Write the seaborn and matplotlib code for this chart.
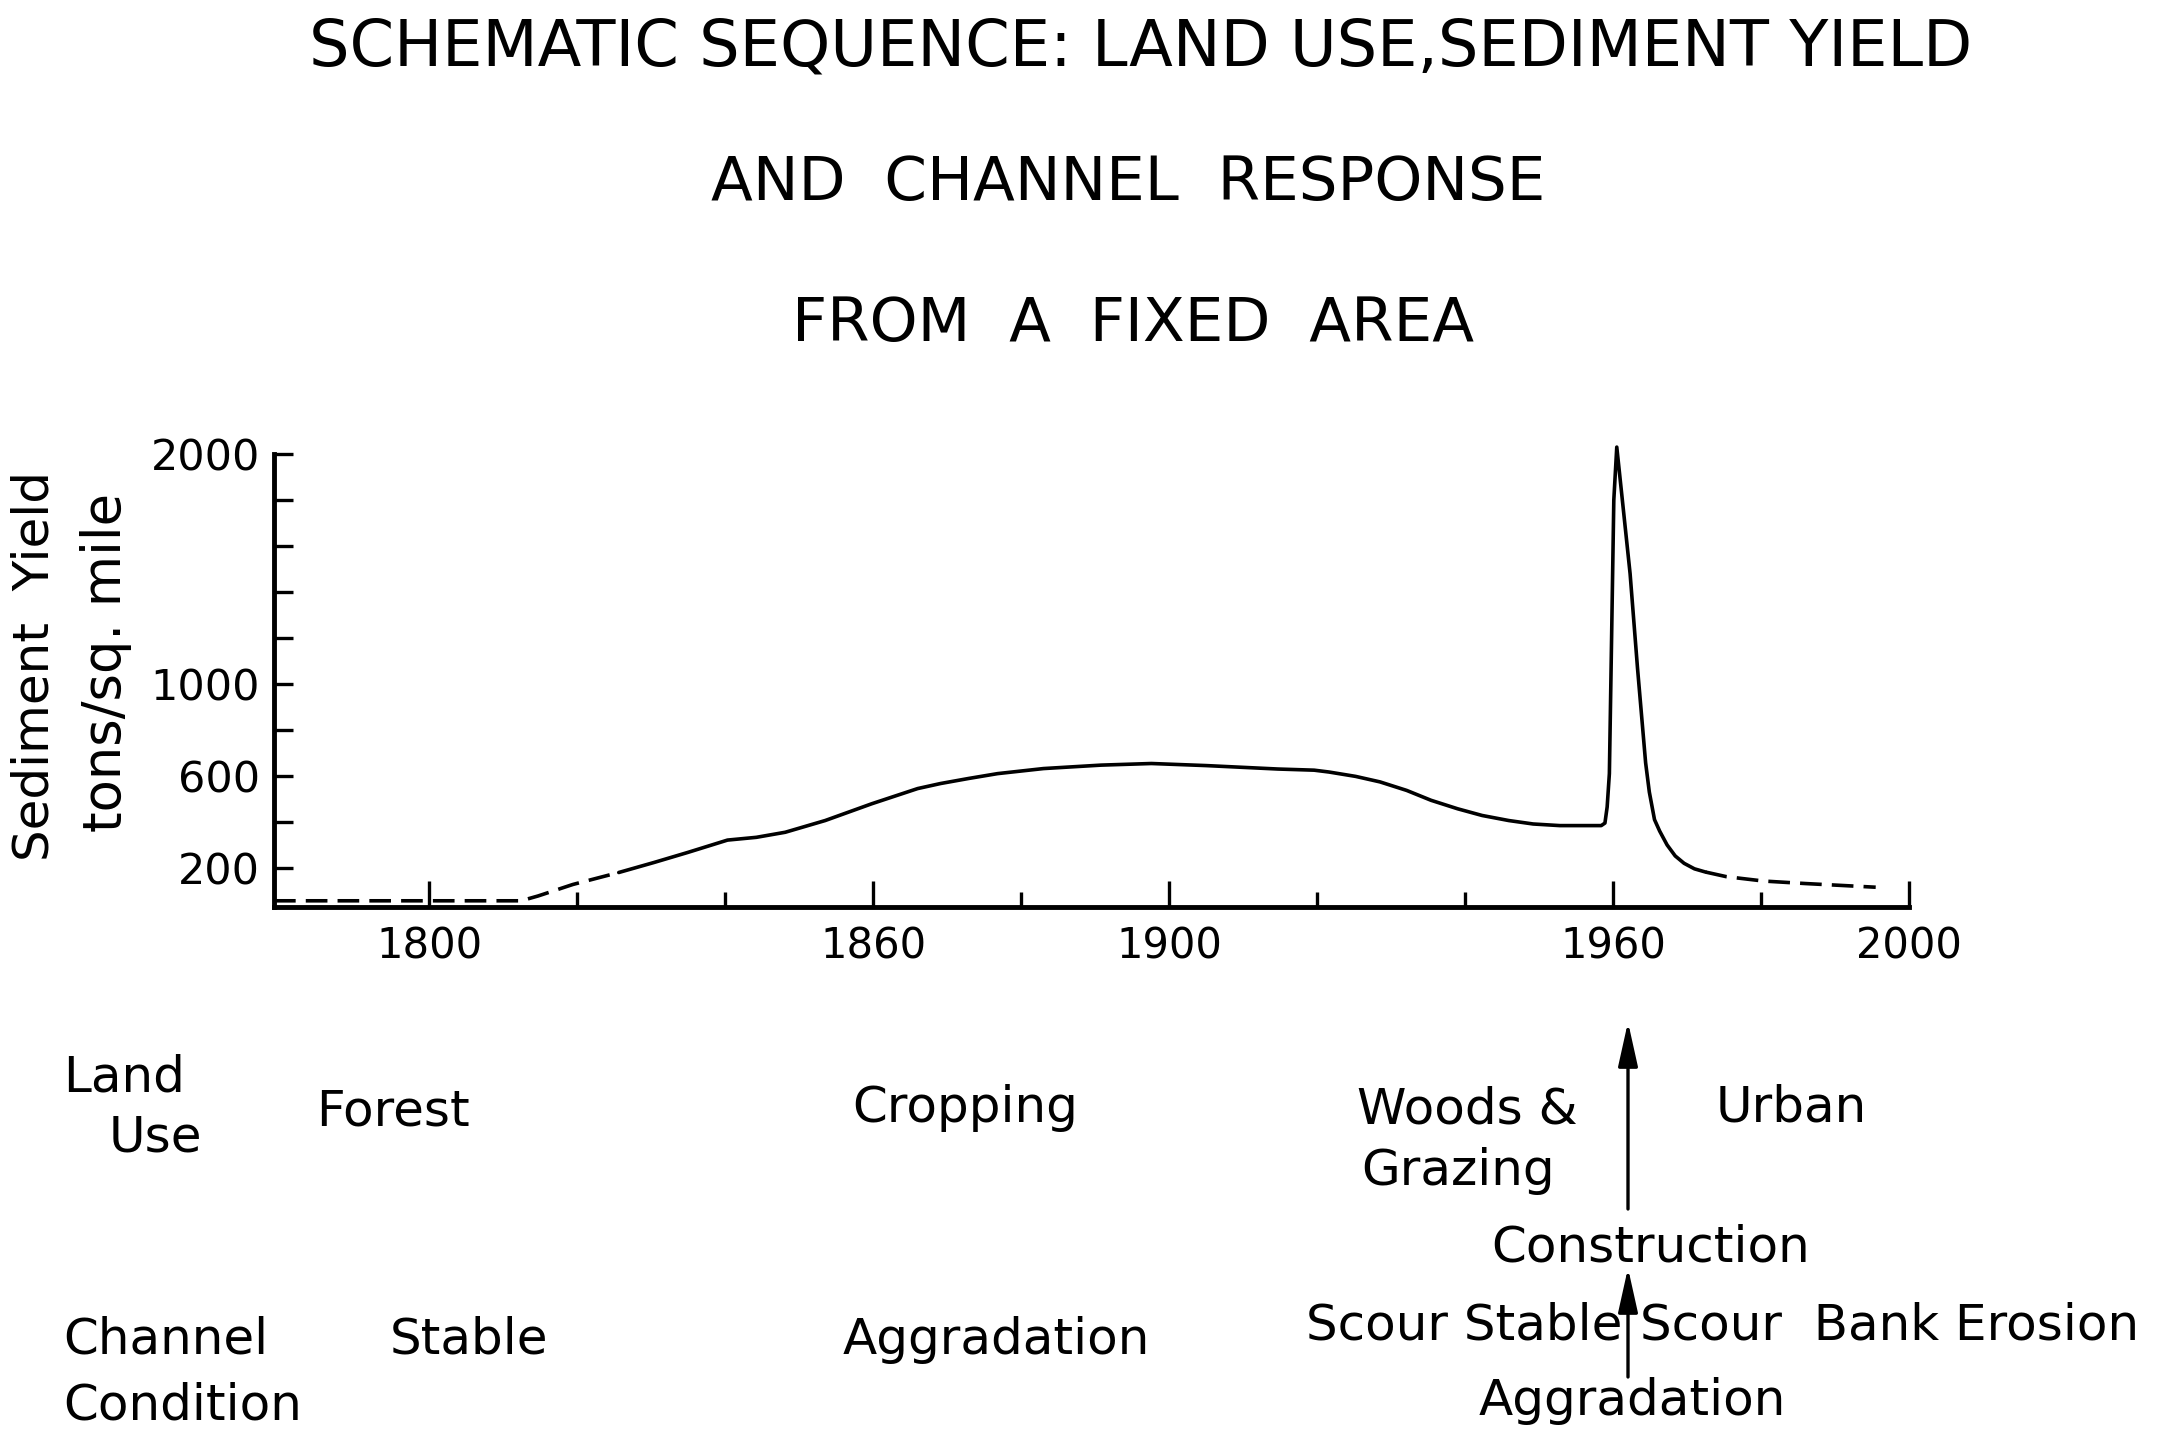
import numpy as np
import pandas as pd
import matplotlib
matplotlib.use("Agg")
import matplotlib.pyplot as plt
import seaborn as sns

# ---------------- values read off the schematic ----------------
# early part (dashed): forest, before records
early_years = [1779, 1812.4, 1814.7, 1819.4, 1825.6]
early_yield = [57, 57, 78, 128, 180]

# main part (solid): cropping -> woods & grazing -> construction spike
main_years = [1825.6, 1830.3, 1834.9, 1840.3, 1844.2, 1848.1, 1853.5, 1859.8,
              1866.0, 1869.1, 1872.9, 1876.8, 1883.0, 1886.1, 1890.8, 1897.6,
              1905.0, 1914.7, 1919.6, 1921.6, 1925.2, 1928.5, 1932.1, 1935.4,
              1939.0, 1942.3, 1945.9, 1949.2, 1952.8, 1958.4, 1958.9, 1959.2,
              1959.5, 1959.8, 1960.1, 1960.5, 1962.3, 1963.3, 1964.4,
              1964.9, 1965.6, 1966.3, 1967.3, 1968.4, 1969.6, 1971.0, 1972.5]
main_yield = [180, 223, 267, 321, 333, 355, 406, 479,
              545, 567, 589, 610, 632, 638, 647, 654,
              645, 630, 625, 617, 598, 574, 537, 494,
              457, 428, 406, 391, 384, 384, 395, 465,
              610, 1200, 1800, 2030, 1480, 1070, 657,
              530, 410, 360, 300, 252, 220, 196, 182]

# late part (dashed): urban, projected
late_years = [1972.5, 1975.3, 1980.3, 1986.0, 1995.5]
late_yield = [182, 162, 143, 132, 116]

ytick_vals = [200, 400, 600, 800, 1000, 1200, 1400, 1600, 1800, 2000]
ytick_labels = ["200", "", "600", "", "1000", "", "", "", "", "2000"]
xtick_major = [1800, 1860, 1900, 1960, 2000]
xtick_minor = [1820, 1840, 1880, 1920, 1940, 1980]

title_lines = ["SCHEMATIC SEQUENCE: LAND USE,SEDIMENT YIELD",
               "AND  CHANNEL  RESPONSE",
               "FROM  A  FIXED  AREA"]

# ---------------- figure ----------------
sns.set_theme(style="white")
plt.rcParams["font.family"] = ["DejaVu Sans"]
plt.rcParams["text.color"] = "black"
plt.rcParams["xtick.color"] = "black"
plt.rcParams["ytick.color"] = "black"
plt.rcParams["axes.edgecolor"] = "black"

W, H = 2166, 1435
fig = plt.figure(figsize=(W / 100, H / 100), dpi=100)


def px(x, y):
    # pixel position in the 2166x1435 picture -> figure fraction
    return x / W, 1 - y / H


ax = fig.add_axes([274 / W, 1 - 907 / H, (1909 - 274) / W, (907 - 454) / H])

df = pd.concat([
    pd.DataFrame({"year": early_years, "yield": early_yield, "part": "early"}),
    pd.DataFrame({"year": main_years, "yield": main_yield, "part": "main"}),
    pd.DataFrame({"year": late_years, "yield": late_yield, "part": "late"}),
], ignore_index=True)

sns.lineplot(data=df, x="year", y="yield", style="part",
             dashes={"early": (6, 2.8), "main": "", "late": (6, 2.8)},
             color="black", lw=2.6, sort=False, estimator=None,
             legend=False, ax=ax)
for line in ax.lines:
    line.set_clip_on(False)
    line.set_solid_joinstyle("round")

ax.set_xlim(1779, 2000)
ax.set_ylim(30, 2000)

ax.spines["top"].set_visible(False)
ax.spines["right"].set_visible(False)
for s in ["left", "bottom"]:
    ax.spines[s].set_linewidth(3.5)
    ax.spines[s].set_color("black")

ax.set_yticks(ytick_vals)
ax.set_yticklabels(ytick_labels)
ax.set_xticks(xtick_major)
ax.set_xticklabels([str(v) for v in xtick_major])
ax.set_xticks(xtick_minor, minor=True)

ax.tick_params(axis="y", direction="in", length=14, width=2.4, pad=10,
               labelsize=31, left=True, colors="black")
ax.tick_params(axis="x", which="major", direction="in", length=19, width=2.4,
               pad=13, labelsize=30, bottom=True, colors="black")
ax.tick_params(axis="x", which="minor", direction="in", length=11, width=2.4,
               bottom=True, colors="black")
ax.set_xlabel("")
ax.set_ylabel("")
ax.grid(False)

# y axis title (two rotated lines)
fig.text(*px(35, 666), "Sediment  Yield", rotation=90, ha="center",
         va="center", fontsize=36)
fig.text(*px(106, 663), "tons/sq. mile", rotation=90, ha="center",
         va="center", fontsize=38)

# title
for txt, (xc, yb), fs in zip(title_lines,
                             [(1141, 65), (1128, 200), (1133, 341)],
                             [46, 44, 44]):
    fig.text(*px(xc, yb), txt, ha="center", va="baseline", fontsize=fs)

# land use / channel condition rows
labels = [
    ("Land", 63, 1092, "left"),
    ("Use", 109, 1151, "left"),
    ("Forest", 316, 1126, "left"),
    ("Cropping", 852, 1122, "left"),
    ("Woods &", 1357, 1124, "left"),
    ("Grazing", 1361, 1185, "left"),
    ("Urban", 1716, 1122, "left"),
    ("Construction", 1651, 1262, "center"),
    ("Channel", 63, 1354, "left"),
    ("Condition", 63, 1419, "left"),
    ("Stable", 390, 1354, "left"),
    ("Aggradation", 843, 1354, "left"),
    ("Scour Stable", 1622, 1340, "right"),
    ("Scour  Bank Erosion", 1640, 1340, "left"),
    ("Aggradation", 1632, 1415, "center"),
]
for txt, x, y, ha in labels:
    fig.text(*px(x, y), txt, ha=ha, va="baseline", fontsize=36)

# construction arrows
arrow = dict(arrowstyle="-|>,head_length=0.9,head_width=0.2", lw=2.4,
             color="black", mutation_scale=30, shrinkA=0, shrinkB=0)
for y_tail, y_tip in [(1209, 1022), (1377, 1268)]:
    ax.annotate("", xy=px(1628, y_tip), xytext=px(1628, y_tail),
                xycoords="figure fraction", textcoords="figure fraction",
                arrowprops=arrow, annotation_clip=False)

fig.savefig("out.png", dpi=100, facecolor="white")
